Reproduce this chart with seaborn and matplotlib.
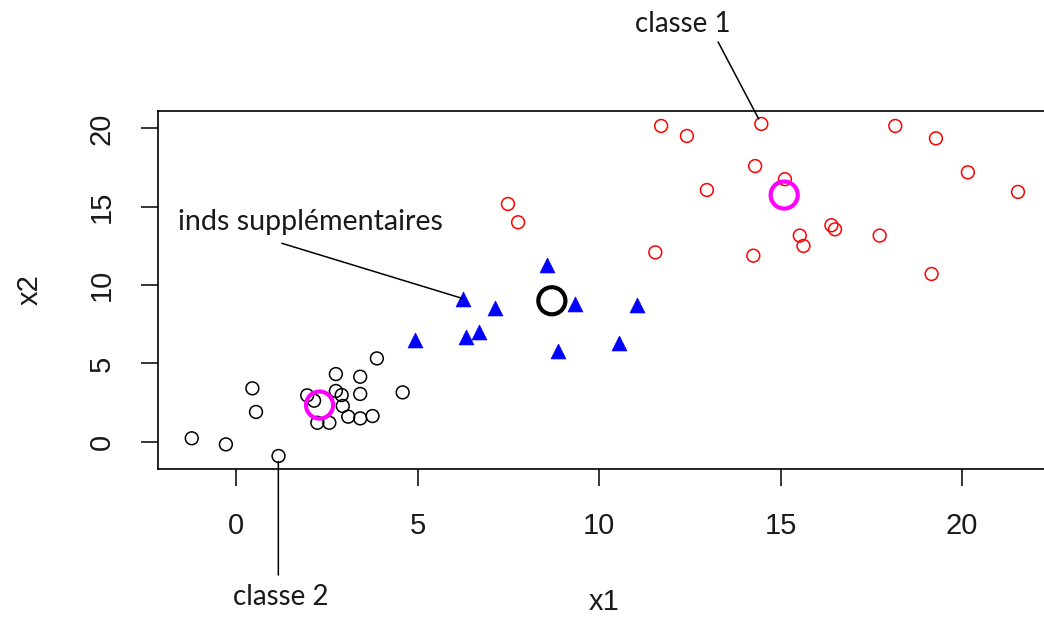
import matplotlib
matplotlib.use("Agg")
import matplotlib.pyplot as plt
import seaborn as sns
import pandas as pd

# ---- data ----
class1_x1 = [11.71, 12.42, 14.47, 18.16, 19.28, 14.30, 15.12, 20.16, 12.97, 21.54,
             7.49, 7.77, 16.40, 16.50, 15.53, 17.73, 15.63, 11.55, 14.25, 19.16]
class1_x2 = [20.16, 19.52, 20.29, 20.16, 19.37, 17.60, 16.76, 17.20, 16.07, 15.95,
             15.18, 14.01, 13.82, 13.56, 13.16, 13.16, 12.50, 12.09, 11.88, 10.71]

class2_x1 = [-1.22, -0.28, 0.45, 0.55, 1.17, 1.96, 2.15, 2.24, 2.57, 2.75,
             2.75, 2.91, 2.94, 3.09, 3.42, 3.42, 3.42, 3.76, 3.88, 4.59]
class2_x2 = [0.22, -0.17, 3.41, 1.90, -0.91, 2.96, 2.62, 1.21, 1.21, 4.32,
             3.24, 2.98, 2.28, 1.60, 4.15, 3.05, 1.49, 1.64, 5.32, 3.15]

supp_x1 = [8.56, 6.24, 7.13, 9.34, 11.04, 4.93, 6.33, 6.69, 8.88, 10.55]
supp_x2 = [11.28, 9.09, 8.52, 8.79, 8.73, 6.49, 6.67, 7.02, 5.81, 6.32]

centers_x1 = [15.10, 2.30]
centers_x2 = [15.75, 2.34]

supp_center_x1 = [8.70]
supp_center_x2 = [9.00]

tick_vals = [0, 5, 10, 15, 20]
tick_labels = ["0", "5", "10", "15", "20"]

df1 = pd.DataFrame({"x1": class1_x1, "x2": class1_x2})
df2 = pd.DataFrame({"x1": class2_x1, "x2": class2_x2})
dfs = pd.DataFrame({"x1": supp_x1, "x2": supp_x2})
dfc = pd.DataFrame({"x1": centers_x1, "x2": centers_x2})
dfsc = pd.DataFrame({"x1": supp_center_x1, "x2": supp_center_x2})

sns.set_style("white")
plt.rcParams["font.family"] = ["Liberation Sans", "DejaVu Sans"]

fig = plt.figure(figsize=(10.44, 6.21), dpi=100)
ax = fig.add_axes([158 / 1044, (621 - 469.3) / 621, (1051 - 158) / 1044, (469.3 - 110.6) / 621])

sns.scatterplot(data=df1, x="x1", y="x2", ax=ax, marker="o", s=85,
                facecolor="none", edgecolor="#FF0000", linewidth=1.1, zorder=3)
sns.scatterplot(data=df2, x="x1", y="x2", ax=ax, marker="o", s=85,
                facecolor="none", edgecolor="black", linewidth=1.1, zorder=3)
sns.scatterplot(data=dfs, x="x1", y="x2", ax=ax, marker="^", s=115,
                color="#0000FF", edgecolor="#0000FF", linewidth=0.5, zorder=3)
sns.scatterplot(data=dfc, x="x1", y="x2", ax=ax, marker="o", s=380,
                facecolor="none", edgecolor="#FF00FF", linewidth=3.0, zorder=4)
sns.scatterplot(data=dfsc, x="x1", y="x2", ax=ax, marker="o", s=380,
                facecolor="none", edgecolor="black", linewidth=3.0, zorder=4)

ax.set_xlim(-2.15, 22.45)
ax.set_ylim(-1.76, 21.14)
ax.set_xticks(tick_vals)
ax.set_xticklabels(tick_labels)
ax.set_yticks(tick_vals)
ax.set_yticklabels(tick_labels)

for sp in ax.spines.values():
    sp.set_visible(True)
    sp.set_color("black")
    sp.set_linewidth(1.2)

ax.tick_params(axis="both", which="major", direction="out", length=12.5, width=1.1,
               color="black", labelsize=21, labelcolor="#1a1a1a", pad=18,
               bottom=True, left=True)
for lab in ax.get_yticklabels():
    lab.set_rotation(90)
    lab.set_va("center")

ax.set_xlabel("x1", fontsize=21, labelpad=35, color="#1a1a1a")
ax.set_ylabel("x2", fontsize=21, labelpad=32, color="#1a1a1a")

annot_font = ["Lato", "DejaVu Sans"]

# classe 1
ax.text(12.31, 26.67, "classe 1", ha="center", va="center", fontsize=20,
        family=annot_font, color="#1a1a1a", clip_on=False)
ax.annotate("", xy=(14.47, 20.29), xytext=(13.28, 25.52),
            arrowprops=dict(arrowstyle="-", color="black", lw=1.1, shrinkA=0, shrinkB=4),
            annotation_clip=False)

# inds supplémentaires
ax.text(2.04, 14.03, "inds supplémentaires", ha="center", va="center", fontsize=20.6,
        family=annot_font, color="#1a1a1a", clip_on=False)
ax.annotate("", xy=(6.22, 9.16), xytext=(1.26, 12.67),
            arrowprops=dict(arrowstyle="-", color="black", lw=1.1, shrinkA=0, shrinkB=0),
            annotation_clip=False)

# classe 2
ax.text(1.24, -9.93, "classe 2", ha="center", va="center", fontsize=20,
        family=annot_font, color="#1a1a1a", clip_on=False)
ax.annotate("", xy=(1.165, -0.91), xytext=(1.165, -8.51),
            arrowprops=dict(arrowstyle="-", color="black", lw=1.1, shrinkA=0, shrinkB=4),
            annotation_clip=False)

fig.savefig("out.png", dpi=100)
